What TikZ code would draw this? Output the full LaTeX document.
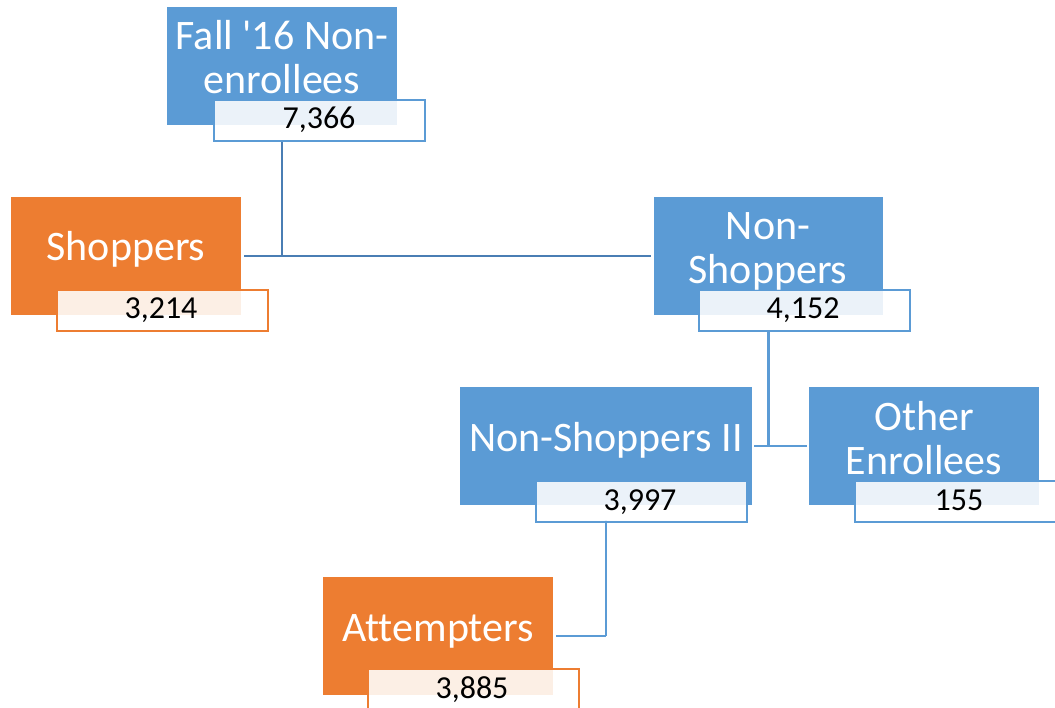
\documentclass[tikz,border=0pt]{standalone}
\usepackage{fontspec}
\setmainfont{Carlito}[Ligatures={TeXOff,NoCommon}]
\definecolor{bluefill}{HTML}{5B9BD5}
\definecolor{orangefill}{HTML}{ED7D31}
\definecolor{darkconn}{HTML}{4A7EB4}
\begin{document}
\begin{tikzpicture}[x=1pt,y=-1pt,
  mainbox/.style={rectangle, draw=none, inner sep=0pt, minimum height=118pt, anchor=north west},
  bluebox/.style={mainbox, fill=bluefill},
  orangebox/.style={mainbox, fill=orangefill},
  countbox/.style={rectangle, inner sep=0pt, minimum width=211pt, minimum height=41pt, anchor=north west, line width=2pt, fill=white, fill opacity=0.88, text opacity=1},
  bluecount/.style={countbox, draw=bluefill},
  orangecount/.style={countbox, draw=orangefill},
  maintext/.style={text=white, inner sep=0pt, align=center, font=\fontsize{42}{44}\selectfont},
  counttext/.style={text=black, inner sep=0pt, anchor=base, font=\fontsize{32}{34}\selectfont},
  conn/.style={draw=bluefill, line width=2.5pt},
  conndark/.style={draw=darkconn, line width=2.5pt}
]
\useasboundingbox (0,0) rectangle (1055,708);

% main boxes
\node[bluebox, minimum width=230pt] (fall) at (167,7) {};
\node[orangebox, minimum width=230pt] (shop) at (11,197) {};
\node[bluebox, minimum width=229pt] (nons) at (654,197) {};
\node[bluebox, minimum width=292pt] (nsii) at (460,387) {};
\node[bluebox, minimum width=230pt] (other) at (809,387) {};
\node[orangebox, minimum width=230pt] (att) at (323,577) {};

% connectors
\draw[conndark] (fall.south |- 0,140) -- (fall.south |- shop.east);
\draw[conndark] ([xshift=3pt]shop.east) -- ([xshift=-3pt]nons.west);
\draw[conn] (nons.south |- 0,330) -- (nons.south |- nsii.east);
\draw[conn] ([xshift=2pt]nsii.east) -- ([xshift=-2pt]other.west);
\draw[conn] (nsii.south |- 0,520) -- (nsii.south |- att.east);
\draw[conn] (nsii.south |- att.east) -- ([xshift=3pt]att.east);

% count boxes
\node[bluecount] (fallc) at (213,99) {};
\node[orangecount] (shopc) at (56,289) {};
\node[bluecount] (nonsc) at (698,289) {};
\node[bluecount] (nsiic) at (535,480) {};
\node[bluecount] (otherc) at (854,480) {};
\node[orangecount] (attc) at (367,668) {};

% main texts
\node[maintext] (fallt) at (282,57) {Fall '16 Non-\\enrollees};
\node[maintext, anchor=base] (shopt) at (126,261) {Shoppers};
\node[maintext] (nonst) at (768,251) {Non-\\Shoppers};
\node[maintext, anchor=base] (nsiit) at (606,451) {Non-Shoppers II};
\node[maintext] (othert) at (924,438) {Other\\Enrollees};
\node[maintext, anchor=base] (attt) at (438,641) {Attempters};

% count texts
\node[counttext] (fallv) at (319,129) {7,366};
\node[counttext] (shopv) at (161,319) {3,214};
\node[counttext] (nonsv) at (803,319) {4,152};
\node[counttext] (nsiiv) at (640,510) {3,997};
\node[counttext] (otherv) at (959,510) {155};
\node[counttext] (attv) at (472,698) {3,885};
\end{tikzpicture}
\end{document}
